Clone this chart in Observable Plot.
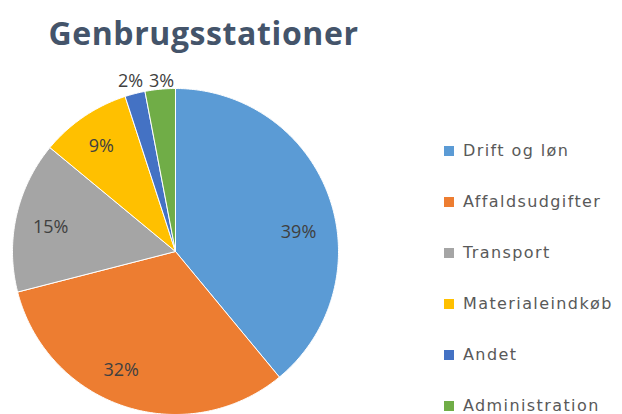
<!DOCTYPE html>
<html>
<head>
<meta charset="utf-8">
<script src="https://cdn.jsdelivr.net/npm/d3@7"></script>
<script src="https://cdn.jsdelivr.net/npm/@observablehq/plot@0.6"></script>
<style>
  html, body { margin: 0; padding: 0; background: #fff; }
  #wrap { position: relative; width: 622px; height: 414px; overflow: hidden; font-family: "Open Sans", sans-serif; }
  #title { position: absolute; left: 0; top: 13px; width: 407px; text-align: center; font-size: 32px; font-weight: 700; color: #44546A; line-height: 40px; letter-spacing: 0.6px; white-space: nowrap; }
  #chart { position: absolute; left: 0; top: 60px; }
  #legend { position: absolute; left: 444px; top: 125px; }
  .item { height: 51px; display: flex; align-items: center; font-family: "DejaVu Sans", sans-serif; font-size: 16px; line-height: 18px; color: #595959; letter-spacing: 1.4px; white-space: nowrap; }
  .sw { width: 10px; height: 10px; margin-right: 9px; flex: none; }
</style>
</head>
<body>
<div id="wrap">
  <div id="title">Genbrugsstationer</div>
  <div id="chart"></div>
  <div id="legend"></div>
</div>
<script>
const categories = ["Drift og løn", "Affaldsudgifter", "Transport", "Materialeindkøb", "Andet", "Administration"];
const values = [39, 32, 15, 9, 2, 3];
const labels = ["39%", "32%", "15%", "9%", "2%", "3%"];
const colors = ["#5B9BD5", "#ED7D31", "#A5A5A5", "#FFC000", "#4472C4", "#70AD47"];

// layout (not data): label placement in polar terms, angle offset (degrees) from slice middle and radius fraction
const labelLayout = [
  {dAngle: 11, r: 0.764},
  {dAngle: 6.6, r: 0.80},
  {dAngle: -1.7, r: 0.78},
  {dAngle: -1, r: 0.79},
  {dAngle: -0.4, r: 1.08},
  {dAngle: 0.7, r: 1.046}
];

const W = 622, H = 354;
const cx = 175, cy = 191, R = 163;

const arcs = d3.pie().sort(null).value(d => d)(values);
const polys = [];
arcs.forEach((a, i) => {
  polys.push({x: 0, y: 0, k: i});
  const n = Math.max(4, Math.ceil((a.endAngle - a.startAngle) / 0.01));
  for (let j = 0; j <= n; j++) {
    const t = a.startAngle + (a.endAngle - a.startAngle) * j / n;
    polys.push({x: Math.sin(t), y: Math.cos(t), k: i});
  }
  polys.push({x: 0, y: 0, k: i});
});

const labelPts = arcs.map((a, i) => {
  const m = (a.startAngle + a.endAngle) / 2 + labelLayout[i].dAngle * Math.PI / 180;
  const r = labelLayout[i].r;
  return {x: r * Math.sin(m), y: r * Math.cos(m), t: labels[i]};
});

const plot = Plot.plot({
  width: W,
  height: H,
  margin: 0,
  x: {type: "linear", domain: [-1, 1], range: [cx - R, cx + R], axis: null},
  y: {type: "linear", domain: [-1, 1], range: [cy + R, cy - R], axis: null},
  style: {background: "transparent", overflow: "visible"},
  marks: [
    Plot.line(polys, {x: "x", y: "y", z: "k", fill: d => colors[d.k], stroke: "#fff", strokeWidth: 1, strokeLinejoin: "round", curve: "linear"}),
    Plot.text(labelPts, {x: "x", y: "y", text: "t", fill: "#404040", fontSize: 18, fontFamily: "Open Sans, sans-serif", letterSpacing: "0.3px"})
  ]
});
document.getElementById("chart").appendChild(plot);

const leg = document.getElementById("legend");
categories.forEach((c, i) => {
  const it = document.createElement("div");
  it.className = "item";
  const sw = document.createElement("span");
  sw.className = "sw";
  sw.style.background = colors[i];
  const tx = document.createElement("span");
  tx.textContent = c;
  it.appendChild(sw);
  it.appendChild(tx);
  leg.appendChild(it);
});
</script>
</body>
</html>
